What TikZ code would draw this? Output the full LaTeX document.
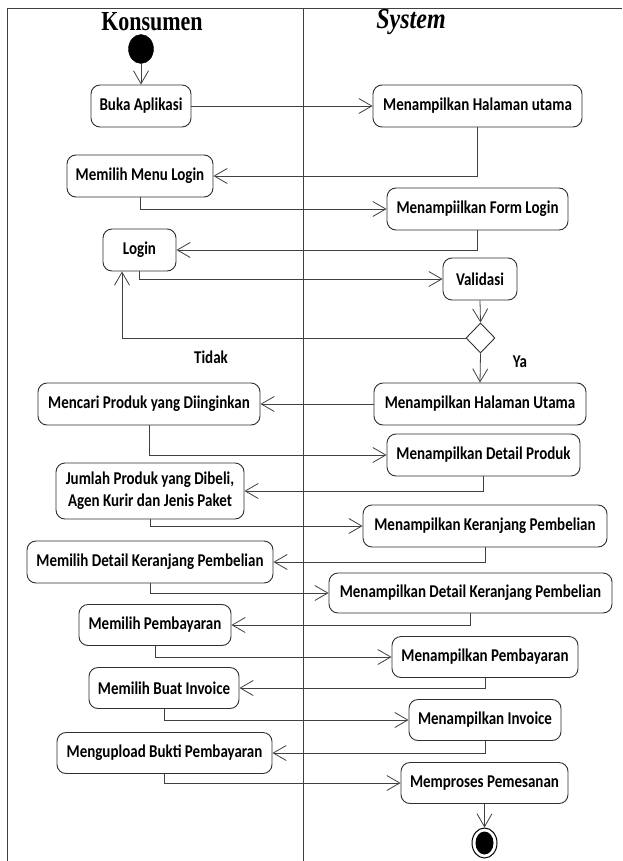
\documentclass[tikz,border=0pt]{standalone}
\usepackage{fontspec}
\usepackage{graphicx}
\setmainfont{Carlito}
\newfontfamily\hdrfont{Liberation Serif}
\usetikzlibrary{arrows.meta,shapes.geometric}
\definecolor{linec}{HTML}{404040}
\definecolor{boxc}{HTML}{303030}
\newcommand{\tx}[1]{\scalebox{1}[1.2]{#1}}
\tikzset{
  act/.style={rectangle, rounded corners=9pt, draw=boxc, line width=0.9pt,
    minimum height=42pt, inner sep=0pt, fill=white,
    font=\fontsize{15}{19}\selectfont\bfseries},
  lbl/.style={inner sep=0pt, font=\fontsize{15}{19}\selectfont\bfseries},
  flow/.style={draw=linec, line width=0.8pt, -{Straight Barb[length=13pt,width=15pt]}},
  frame/.style={draw=linec, line width=0.9pt},
  startnode/.style={ellipse, fill=black, draw=black, minimum width=25pt, minimum height=29pt, inner sep=0pt},
  endnode/.style={ellipse, draw=black, line width=1pt, fill=white, minimum width=25pt, minimum height=30pt, inner sep=0pt},
  decision/.style={diamond, draw=boxc, line width=0.9pt, fill=white, minimum width=29pt, minimum height=30pt, inner sep=0pt}
}
\begin{document}
\begin{tikzpicture}[x=1pt, y=-1pt]
\useasboundingbox (0,0) rectangle (622,861);
\fill[white] (0,0) rectangle (622,861);
% frame and swimlanes
\coordinate (tl) at (7,8);
\coordinate (tr) at (622,8);
\coordinate (bl) at (7,861);
\coordinate (dt) at (303,8);
\coordinate (db) at (303,861);
\draw[frame] (tr) -- (tl) -- (bl);
\draw[frame] (dt) -- (db);
% headers
\node[inner sep=0pt, anchor=base, font=\hdrfont\fontsize{22}{24}\selectfont\bfseries] (hk) at (152,31) {\scalebox{1}[1.25]{Konsumen}};
\node[inner sep=0pt, anchor=base, font=\hdrfont\fontsize{24}{26}\selectfont\bfseries\itshape] (hs) at (411,29) {\scalebox{1}[1.2]{System}};
% nodes
\node[startnode] (start) at (141,49) {};
\node[act, minimum width=100pt] (buka) at (141,106) {\tx{Buka Aplikasi}};
\node[act, minimum width=209pt] (mhu1) at (477.5,106) {\tx{Menampilkan Halaman utama}};
\node[act, minimum width=146pt] (mml) at (140,176) {\tx{Memilih Menu Login}};
\node[act, minimum width=181pt] (mfl) at (477.5,209) {\tx{Menampiilkan Form Login}};
\node[act, minimum width=73pt] (login) at (139.5,250) {\tx{Login}};
\node[act, minimum width=74pt] (val) at (480,279) {\tx{Validasi}};
\node[decision] (dec) at (480.5,338) {};
\node[act, minimum width=212pt] (mhu2) at (480,404) {\tx{Menampilkan Halaman Utama}};
\node[act, minimum width=222pt] (mcari) at (149,404) {\tx{Mencari Produk yang Diinginkan}};
\node[act, minimum width=193pt] (mdp) at (483.5,455) {\tx{Menampilkan Detail Produk}};
\node[act, minimum width=188pt, minimum height=56pt] (jml) at (150,491) {\tx{\begin{tabular}{@{}c@{}}Jumlah Produk yang Dibeli,\\Agen Kurir dan Jenis Paket\end{tabular}}};
\node[act, minimum width=244pt] (mkp) at (485,526) {\tx{Menampilkan Keranjang Pembelian}};
\node[act, minimum width=246pt] (mdkp) at (150,562) {\tx{Memilih Detail Keranjang Pembelian}};
\node[act, minimum width=283pt, minimum height=40pt] (mdkp2) at (470.5,593) {\tx{Menampilkan Detail Keranjang Pembelian}};
\node[act, minimum width=152pt, minimum height=41pt] (mpb) at (155,625) {\tx{Memilih Pembayaran}};
\node[act, minimum width=186pt, minimum height=41pt] (mpb2) at (485,657) {\tx{Menampilkan Pembayaran}};
\node[act, minimum width=150pt, minimum height=41pt] (mbi) at (164,688) {\tx{Memilih Buat Invoice}};
\node[act, minimum width=152pt, minimum height=41pt] (minv) at (485,720) {\tx{Menampilkan Invoice}};
\node[act, minimum width=215pt, minimum height=41pt] (mup) at (164.5,753) {\tx{Mengupload Bukti Pembayaran}};
\node[act, minimum width=167pt, minimum height=41pt] (mproc) at (484.5,783) {\tx{Memproses Pemesanan}};
\node[endnode] (end) at (484.5,843) {};
\node[ellipse, fill=black, minimum width=18pt, minimum height=23pt, inner sep=0pt] (endin) at (end.center) {};
% labels
\node[lbl] (tidak) at (211,357) {\tx{Tidak}};
\node[lbl] (ya) at (520,362) {\tx{Ya}};
% connectors
\coordinate (loginin) at ([xshift=-17.5pt]login.south);
\draw[flow] (start) -- (buka);
\draw[flow] (buka) -- (mhu1);
\draw[flow] (mhu1.south) |- (mml.east);
\draw[flow] (mml.south) |- (mfl.west);
\draw[flow] (mfl.south) |- (login.east);
\draw[flow] (login.south) |- (val.west);
\draw[flow] (val.south) -- (dec.north);
\draw[flow] (dec.west) -| (loginin);
\draw[flow] (dec.south) -- (mhu2.north);
\draw[flow] (mhu2.west) -- (mcari.east);
\draw[flow] (mcari.south) |- (mdp.west);
\draw[flow] (mdp.south) |- (jml.east);
\draw[flow] (jml.south) |- (mkp.west);
\draw[flow] (mkp.south) |- (mdkp.east);
\draw[flow] (mdkp.south) |- (mdkp2.west);
\draw[flow] (mdkp2.south) |- (mpb.east);
\draw[flow] (mpb.south) |- (mpb2.west);
\draw[flow] (mpb2.south) |- (mbi.east);
\draw[flow] (mbi.south) |- (minv.west);
\draw[flow] (minv.south) |- (mup.east);
\draw[flow] (mup.south) |- (mproc.west);
\draw[flow] (mproc.south) -- (end.north);
\end{tikzpicture}
\end{document}
